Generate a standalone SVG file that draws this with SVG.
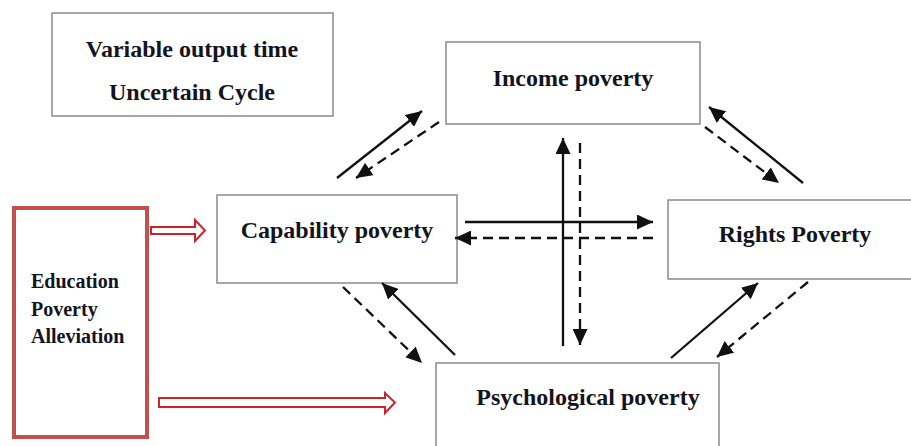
<svg xmlns="http://www.w3.org/2000/svg" width="911" height="446" viewBox="0 0 911 446">
<style>
.box{fill:#fff;stroke:#8a8a8a;stroke-width:1.5}
.t{font-family:"Liberation Serif","Times New Roman",serif;font-weight:bold;font-size:24px;fill:#141420}
.ts{font-family:"Liberation Serif","Times New Roman",serif;font-weight:bold;font-size:20px;fill:#141420}
.s{stroke:#111;stroke-width:2.3;fill:none}
.d{stroke:#111;stroke-width:2.3;fill:none;stroke-dasharray:10,6}
.red{fill:#fff;stroke:#cc2229;stroke-width:2;stroke-linejoin:miter}
</style>
<defs>
<marker id="ah" markerUnits="userSpaceOnUse" markerWidth="17" markerHeight="15" refX="16" refY="7.5" orient="auto">
<path d="M0,0 L16,7.5 L0,15 Z" fill="#111"/>
</marker>
</defs>
<g id="note">
<rect class="box" x="52" y="13" width="281" height="103"/>
<text class="t" x="192" y="57" text-anchor="middle">Variable output time</text>
<text class="t" x="192" y="100" text-anchor="middle">Uncertain Cycle</text>
</g>
<g id="income">
<rect class="box" x="446" y="42" width="254" height="82"/>
<text class="t" x="573" y="86" text-anchor="middle">Income poverty</text>
</g>
<g id="capability">
<rect class="box" x="217" y="195" width="240" height="88"/>
<text class="t" x="337" y="238" text-anchor="middle">Capability poverty</text>
</g>
<g id="rights">
<rect class="box" x="668" y="200" width="250" height="79"/>
<text class="t" x="795" y="242" text-anchor="middle">Rights Poverty</text>
</g>
<g id="psychological">
<rect class="box" x="436" y="363" width="283" height="100"/>
<text class="t" x="588" y="405" text-anchor="middle">Psychological poverty</text>
</g>
<g id="education">
<rect x="14" y="208" width="133" height="229" fill="#fff" stroke="#c4504e" stroke-width="4"/>
<text class="ts" x="31" y="288">Education</text>
<text class="ts" x="31" y="316">Poverty</text>
<text class="ts" x="31" y="343">Alleviation</text>
</g>
<g id="connectors">
<path class="red" d="M151,227 L195,227 L195,220 L205,230.5 L195,241 L195,234 L151,234 Z"/>
<path class="red" d="M159,398 L385,398 L385,393 L395,402.5 L385,413 L385,407 L159,407 Z"/>
<line class="s" x1="337" y1="178" x2="422" y2="111" marker-end="url(#ah)"/>
<line class="d" x1="439" y1="122" x2="356" y2="178" marker-end="url(#ah)"/>
<line class="s" x1="803" y1="183" x2="709" y2="107" marker-end="url(#ah)"/>
<line class="d" x1="705" y1="127" x2="779" y2="183" marker-end="url(#ah)"/>
<line class="s" x1="563" y1="346" x2="563" y2="138" marker-end="url(#ah)"/>
<line class="d" x1="580" y1="143" x2="580" y2="345" marker-end="url(#ah)"/>
<line class="s" x1="465" y1="222" x2="653" y2="222" marker-end="url(#ah)"/>
<line class="d" x1="653" y1="238" x2="455" y2="238" marker-end="url(#ah)"/>
<line class="d" x1="343" y1="287" x2="422" y2="363" marker-end="url(#ah)"/>
<line class="s" x1="455" y1="355" x2="382" y2="283" marker-end="url(#ah)"/>
<line class="s" x1="671" y1="358" x2="758" y2="283" marker-end="url(#ah)"/>
<line class="d" x1="808" y1="282" x2="717" y2="357" marker-end="url(#ah)"/>
</g>
</svg>
